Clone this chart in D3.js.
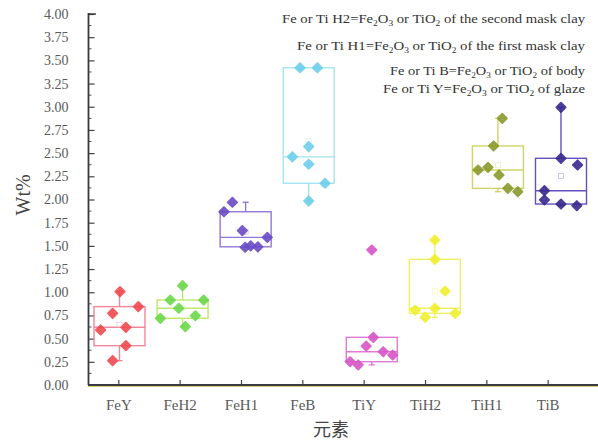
<!DOCTYPE html>
<html>
<head>
<meta charset="utf-8">
<script src="https://cdn.jsdelivr.net/npm/d3@7"></script>
<style>
  html, body { margin: 0; padding: 0; background: #fff; }
  svg { display: block; }
</style>
</head>
<body>
<svg id="chart" width="598" height="441"></svg>
<script>
// ---------- data ----------
const categories = ["FeY", "FeH2", "FeH1", "FeB", "TiY", "TiH2", "TiH1", "TiB"];
const feY  = [1.006, 0.845, 0.773, 0.593, 0.622, 0.424, 0.262];
const feH2 = [1.071, 0.916, 0.916, 0.827, 0.719, 0.747, 0.629];
const feH1 = [1.970, 1.868, 1.664, 1.592, 1.485, 1.490, 1.500];
const feB  = [3.420, 3.420, 2.570, 2.460, 2.380, 2.175, 1.984];
const tiY  = [1.456, 0.514, 0.420, 0.359, 0.323, 0.251, 0.216];
const tiH2 = [1.563, 1.355, 1.013, 0.808, 0.730, 0.827, 0.773];
const tiH1 = [2.875, 2.577, 2.318, 2.347, 2.264, 2.120, 2.084];
const tiB  = [2.994, 2.444, 2.372, 2.095, 1.995, 1.951, 1.933];
const seriesValues = [feY, feH2, feH1, feB, tiY, tiH2, tiH1, tiB];

const yTickValues = [0, 0.25, 0.5, 0.75, 1, 1.25, 1.5, 1.75, 2, 2.25, 2.5, 2.75, 3, 3.25, 3.5, 3.75, 4];
const yTitle = "Wt%";
const xTitle = "元素";
const legendCodes = ["H2", "H1", "B", "Y"];
const legendWhat  = ["the second mask clay", "the first mask clay", "body", "glaze"];

// ---------- layout / style (not data) ----------
// horizontal jitter of the points, as a fraction of the box half-width
const jitter = [
  [0.02, 0.74, -0.27, -0.74, 0.25, 0.25, -0.27],
  [0, -0.48, 0.83, -0.15, -0.87, 0.5, 0.11],
  [-0.52, -0.85, -0.13, 0.85, -0.02, 0.48, 0.2],
  [-0.34, 0.34, 0, -0.64, 0, 0.64, 0],
  [0, 0.06, -0.22, 0.45, 0.82, -0.85, -0.53],
  [0, 0, 0.4, -0.77, -0.38, 0, 0.8],
  [0.17, -0.17, -0.78, -0.39, 0.04, 0.39, 0.78],
  [0, 0, 0.65, -0.65, -0.65, 0, 0.62]
];
const pointColors = ["#f04a4e", "#6cd84c", "#6a4cc6", "#6fcfea", "#d856c6", "#f0f030", "#8a9a2c", "#372a8e"];
const boxColors   = ["#f0889a", "#bde868", "#9178d6", "#a6e3f0", "#e07ad4", "#f0f068", "#cfd468", "#6252bc"];

const W = 598, H = 441;
const svg = d3.select("#chart");
const serif = "'Liberation Serif', 'Times New Roman', serif";

const y = d3.scaleLinear().domain([0, 4]).range([385, 14]);
const xAxisScale = d3.scalePoint().domain(categories).range([118.3, 547.7]);
const xBox = d3.scalePoint().domain(categories).range([119.5, 561]);
const halfW = 25.5;

// quantile with (n+1)p positioning
function quant(sorted, p) {
  const h = (sorted.length + 1) * p - 1;
  const lo = Math.max(0, Math.floor(h)), hi = Math.min(sorted.length - 1, Math.ceil(h));
  return sorted[lo] + (h - lo) * (sorted[hi] - sorted[lo]);
}

// ---------- axes ----------
const yAxis = d3.axisLeft(y).tickValues(yTickValues).tickSizeInner(-6).tickSizeOuter(0)
  .tickPadding(20).tickFormat(d3.format(".2f"));
const gy = svg.append("g").attr("transform", "translate(88.5,0)").call(yAxis);
gy.select(".domain").remove();
gy.selectAll(".tick line").attr("stroke", "#444").attr("stroke-width", 1.2);
gy.selectAll(".tick text").attr("font-family", serif).attr("font-size", 14).attr("fill", "#5a5a5a");

// minor ticks
svg.append("g").selectAll("line")
  .data(yTickValues.slice(0, -1).map(v => v + 0.125))
  .join("line")
  .attr("x1", 88.5).attr("x2", 91.5)
  .attr("y1", d => y(d)).attr("y2", d => y(d))
  .attr("stroke", "#555").attr("stroke-width", 1);

const xAxis = d3.axisBottom(xAxisScale).tickSizeInner(-5).tickSizeOuter(0).tickPadding(14);
const gx = svg.append("g").attr("transform", "translate(0,385)").call(xAxis);
gx.select(".domain").remove();
gx.selectAll(".tick line").attr("stroke", "#444").attr("stroke-width", 1.2);
gx.selectAll(".tick text").attr("font-family", serif).attr("font-size", 15).attr("fill", "#5a5a5a");

// axis lines
svg.append("line").attr("x1", 88.5).attr("x2", 88.5).attr("y1", y(4) - 1).attr("y2", y(0))
  .attr("stroke", "#3a3a3a").attr("stroke-width", 1.8);
svg.append("line").attr("x1", 88).attr("x2", W).attr("y1", y(0) + 1.5).attr("y2", y(0) + 1.5)
  .attr("stroke", "#d9d27a").attr("stroke-width", 1.2);
svg.append("line").attr("x1", 88).attr("x2", W).attr("y1", y(0)).attr("y2", y(0))
  .attr("stroke", "#3a3a44").attr("stroke-width", 1.8);
svg.append("line").attr("x1", 88.5).attr("x2", 96).attr("y1", y(4)).attr("y2", y(4))
  .attr("stroke", "#3a3a3a").attr("stroke-width", 1.4);

// titles
svg.append("text").attr("transform", `translate(30,${y(2.05)}) rotate(-90)`)
  .attr("text-anchor", "middle").attr("font-family", serif).attr("font-size", 20)
  .attr("fill", "#444").text(yTitle);
svg.append("text").attr("x", 331).attr("y", 436).attr("text-anchor", "middle")
  .attr("font-family", "'Noto Sans CJK SC', sans-serif").attr("font-size", 18)
  .attr("fill", "#444").text(xTitle);

// ---------- boxes ----------
const groups = svg.append("g").selectAll("g")
  .data(categories.map((c, i) => {
    const vals = seriesValues[i];
    const s = vals.slice().sort(d3.ascending);
    const q1 = quant(s, 0.25), med = quant(s, 0.5), q3 = quant(s, 0.75);
    const iqr = q3 - q1;
    const lo = d3.min(s.filter(v => v >= q1 - 1.5 * iqr));
    const hi = d3.max(s.filter(v => v <= q3 + 1.5 * iqr));
    return { c, i, vals, q1, med, q3, lo, hi, mean: d3.mean(vals) };
  }))
  .join("g");

groups.each(function(d) {
  const g = d3.select(this);
  const cx = xBox(d.c);
  const col = boxColors[d.i];
  g.append("rect").attr("x", cx - halfW).attr("y", y(d.q3))
    .attr("width", 2 * halfW).attr("height", y(d.q1) - y(d.q3))
    .attr("fill", "none").attr("stroke", col).attr("stroke-width", 1.4);
  g.append("line").attr("x1", cx - halfW).attr("x2", cx + halfW)
    .attr("y1", y(d.med)).attr("y2", y(d.med)).attr("stroke", col).attr("stroke-width", 1.4);
  // whiskers
  [[d.q3, d.hi], [d.q1, d.lo]].forEach(([a, b]) => {
    if (a === b) return;
    g.append("line").attr("x1", cx).attr("x2", cx).attr("y1", y(a)).attr("y2", y(b))
      .attr("stroke", col).attr("stroke-width", 1.4);
    g.append("line").attr("x1", cx - 3).attr("x2", cx + 3).attr("y1", y(b)).attr("y2", y(b))
      .attr("stroke", col).attr("stroke-width", 1.4);
  });
  // mean marker
  g.append("rect").attr("x", cx - 2.5).attr("y", y(d.mean) - 2.5).attr("width", 5).attr("height", 5)
    .attr("fill", "#fff").attr("stroke", col).attr("stroke-width", 0.8).attr("opacity", 0.4);
  // points
  const sym = d3.symbol().type(d3.symbolSquare).size(44);
  g.selectAll("path.pt").data(d.vals).join("path").attr("class", "pt")
    .attr("d", sym)
    .attr("transform", (v, k) => `translate(${cx + jitter[d.i][k] * halfW},${y(v)}) rotate(45)`)
    .attr("fill", pointColors[d.i]).attr("stroke", pointColors[d.i])
    .attr("stroke-width", 1.8).attr("stroke-linejoin", "round").attr("opacity", 0.9);
});

// ---------- legend text ----------
const legendBase = [23, 50, 75, 93];
const legendWidths = [303, 288, 195, 202];
legendCodes.forEach((code, i) => {
  const t = svg.append("text").attr("x", 585).attr("y", legendBase[i])
    .attr("text-anchor", "end").attr("font-family", serif).attr("font-size", 12.5)
    .attr("fill", "#333");
  const parts = [
    ["Fe or Ti " + code + "=Fe", 0], ["2", 1], ["O", 0], ["3", 1],
    [" or TiO", 0], ["2", 1], [" of " + legendWhat[i], 0]
  ];
  let shifted = false;
  parts.forEach(([txt, sub]) => {
    const ts = t.append("tspan").text(txt);
    if (sub) { ts.attr("dy", 3).attr("font-size", 8); shifted = true; }
    else if (shifted) { ts.attr("dy", -3); shifted = false; }
  });
  t.attr("textLength", legendWidths[i]).attr("lengthAdjust", "spacingAndGlyphs");
});
</script>
</body>
</html>
